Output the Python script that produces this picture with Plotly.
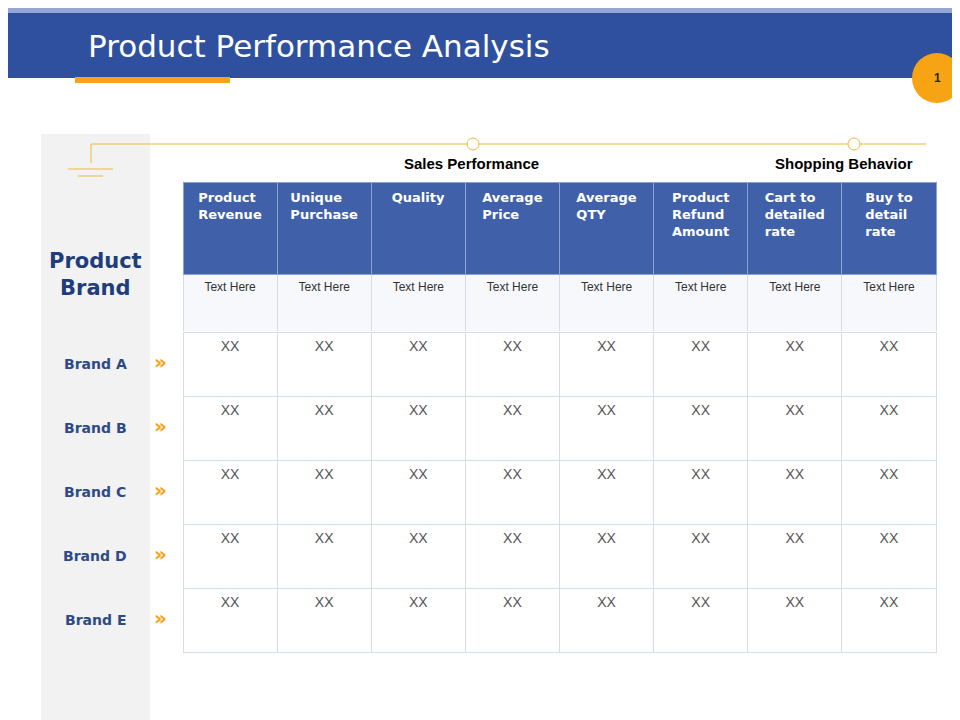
import plotly.graph_objects as go

columns = ["Product<br>Revenue", "Unique<br>Purchase", "Quality", "Average<br>Price",
           "Average<br>QTY", "Product<br>Refund<br>Amount", "Cart to<br>detailed<br>rate",
           "Buy to<br>detail<br>rate"]
subtitle_row = ["Text Here"] * 8
brands = ["Brand A", "Brand B", "Brand C", "Brand D", "Brand E"]
values = [["XX"] * 8 for _ in brands]
groups = ["Sales Performance", "Shopping Behavior"]

W, H = 960, 720
def py(y):
    return 1 - y / H
def px_(x):
    return x / W

line = "#d5dcea"
fig = go.Figure()

# header + "Text Here" row
fig.add_trace(go.Table(
    domain=dict(x=[px_(175), px_(928)], y=[py(324), py(174)]),
    header=dict(values=[f"<b>{c}</b>" for c in columns], height=92, fill_color="#4061a9",
                line_color="#8ea2d2", align="center",
                font=dict(family="DejaVu Sans", size=13, color="white")),
    cells=dict(values=[[s] for s in subtitle_row], height=58, fill_color="#f7f8fb",
               line_color=line, align="center",
               font=dict(family="Liberation Sans", size=12, color="#333333")),
))

# brand rows (first one as a white header so every row is 64px)
cols = list(zip(*values))
fig.add_trace(go.Table(
    domain=dict(x=[px_(175), px_(928)], y=[py(645), py(324)]),
    header=dict(values=list(cols[0] if False else values[0]), height=64, fill_color="white",
                line_color=line, align="center",
                font=dict(family="Liberation Sans", size=14, color="#555555")),
    cells=dict(values=[list(c[1:]) for c in cols], height=64, fill_color="white",
               line_color=line, align="center",
               font=dict(family="Liberation Sans", size=14, color="#555555")),
))

shapes = [
    dict(type="rect", x0=0, x1=W, y0=0, y1=70, fillcolor="#2e509e", line_width=0),
    dict(type="rect", x0=0, x1=W, y0=0, y1=5, fillcolor="#93a6d4", line_width=0),
    dict(type="rect", x0=67, x1=222, y0=69, y1=75, fillcolor="#f6a31a", line_width=0),
    dict(type="circle", x0=904, x1=954, y0=45, y1=95, fillcolor="#f7a414", line_width=0),
    dict(type="rect", x0=33, x1=142, y0=126, y1=720, fillcolor="#f2f2f2", line_width=0),
    dict(type="path", path="M 83 155 L 83 136 L 918 136", line=dict(color="#f0b73a", width=1)),
    dict(type="line", x0=60, x1=105, y0=161, y1=161, line=dict(color="#f0b73a", width=1)),
    dict(type="line", x0=70, x1=95, y0=168, y1=168, line=dict(color="#f0b73a", width=1)),
]
for cx in (465, 846):
    shapes.append(dict(type="circle", x0=cx - 6, x1=cx + 6, y0=130, y1=142,
                       fillcolor="white", line=dict(color="#f0b73a", width=1)))

ann = [
    dict(x=78, y=38, text="Product Performance Analysis", xanchor="left",
         font=dict(family="DejaVu Sans", size=31, color="white")),
    dict(x=929, y=70, text="<b>1</b>", font=dict(family="Liberation Sans", size=12, color="#222")),
    dict(x=87, y=266, text="<b>Product<br>Brand</b>",
         font=dict(family="DejaVu Sans", size=21, color="#1f3d7a")),
]
for g, gx in zip(groups, (463, 836)):
    ann.append(dict(x=gx, y=155, text=f"<b>{g}</b>",
                    font=dict(family="Liberation Sans", size=15, color="black")))
for i, b in enumerate(brands):
    yy = 356 + 64 * i
    ann.append(dict(x=87, y=yy, text=f"<b>{b}</b>",
                    font=dict(family="DejaVu Sans", size=14, color="#2e4a86")))
    ann.append(dict(x=152, y=yy - 2, text="<b>»</b>",
                    font=dict(family="DejaVu Sans", size=20, color="#f6a31a")))
for a in ann:
    a.update(xref="x", yref="y", showarrow=False)

fig.update_layout(
    width=W, height=H, margin=dict(l=0, r=0, t=0, b=0),
    paper_bgcolor="white", plot_bgcolor="rgba(0,0,0,0)",
    xaxis=dict(range=[0, W], visible=False, fixedrange=True),
    yaxis=dict(range=[H, 0], visible=False, fixedrange=True),
    shapes=[dict(s, xref="x", yref="y", layer="below") for s in shapes],
    annotations=ann, showlegend=False,
)
fig.write_html("out.html")
